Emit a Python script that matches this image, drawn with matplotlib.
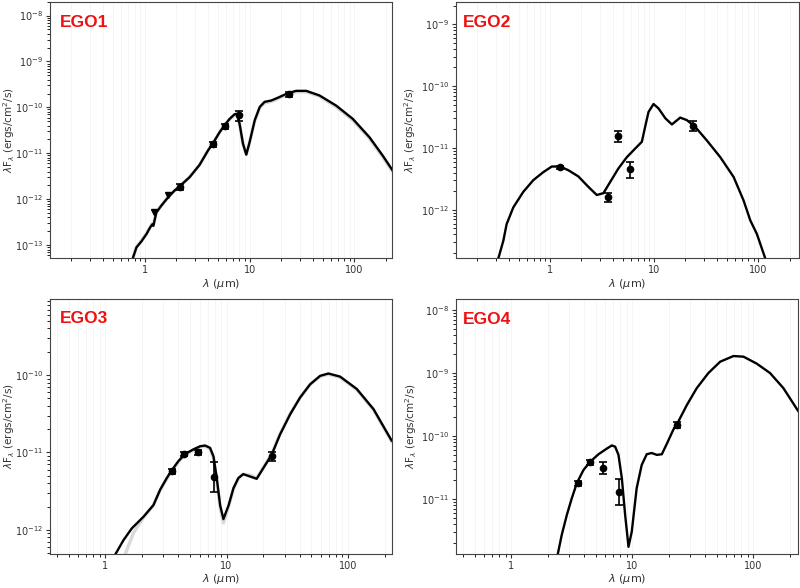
import numpy as np
import matplotlib
matplotlib.use('Agg')
import matplotlib.pyplot as plt

# ---- EGO1 ----
ego1_wav = [0.774, 0.834, 0.93, 1.04, 1.13, 1.18, 1.21, 1.29, 1.44, 1.67, 1.93, 2.15, 2.68, 3.34,
            4.01, 4.48, 5.18, 5.78, 6.45, 7.2, 7.57, 8.03, 8.65, 9.3, 10.0, 11.2, 12.5, 13.9,
            16.1, 18.6, 23.2, 27.8, 34.7, 46.4, 66.8, 96.4, 139, 186, 232]
ego1_logf = [-13.27, -13.05, -12.92, -12.76, -12.61, -12.55, -12.58, -12.29, -12.14, -11.96,
             -11.81, -11.72, -11.52, -11.25, -10.94, -10.78, -10.54, -10.39, -10.25, -10.15,
             -10.14, -10.36, -10.79, -11.03, -10.76, -10.28, -9.99, -9.88, -9.85, -9.79, -9.69,
             -9.64, -9.64, -9.74, -9.96, -10.25, -10.65, -11.05, -11.38]
ego1_gray_logf = [-13.27, -13.04, -12.9, -12.74, -12.6, -12.53, -12.55, -12.29, -12.14, -11.96,
                  -11.81, -11.72, -11.52, -11.25, -10.94, -10.78, -10.54, -10.39, -10.26, -10.16,
                  -10.15, -10.37, -10.8, -11.02, -10.76, -10.29, -10.01, -9.9, -9.87, -9.81, -9.71,
                  -9.66, -9.66, -9.76, -9.99, -10.28, -10.68, -11.08, -11.41]
ego1_pt_wav = [2.16, 4.5, 5.8, 7.9, 23.7]
ego1_pt_f = [1.85e-12, 1.6e-11, 3.9e-11, 6.7e-11, 1.95e-10]
ego1_pt_err = [0.25e-12, 0.2e-11, 0.5e-11, 1.6e-11, 0.25e-10]
ego1_lim_wav = [1.235, 1.66]
ego1_lim_f = [5.3e-13, 1.25e-12]

# ---- EGO2 ----
ego2_wav = [0.318, 0.356, 0.383, 0.444, 0.553, 0.691, 0.863, 1.04, 1.25, 1.5, 1.87, 2.34, 2.81,
            3.26, 3.78, 4.54, 5.46, 6.57, 7.62, 8.19, 8.82, 9.86, 11.0, 12.8, 14.8, 17.8, 20.6,
            24.8, 32.1, 43.2, 58, 72.3, 83.8, 97, 117]
ego2_logf = [-12.79, -12.50, -12.23, -11.96, -11.71, -11.52, -11.39, -11.30, -11.30, -11.36,
             -11.46, -11.63, -11.76, -11.73, -11.55, -11.33, -11.15, -11.01, -10.90, -10.66,
             -10.42, -10.29, -10.36, -10.52, -10.62, -10.51, -10.55, -10.66, -10.88, -11.15,
             -11.47, -11.85, -12.17, -12.39, -12.79]
ego2_pt_wav = [1.24, 3.6, 4.5, 5.8, 23.7]
ego2_pt_f = [4.9e-12, 1.6e-12, 1.55e-11, 4.6e-12, 2.3e-11]
ego2_pt_err = [0.3e-12, 0.25e-12, 0.3e-11, 1.3e-12, 0.4e-11]

# ---- EGO3 ----
ego3_wav = [1.21, 1.42, 1.66, 2.07, 2.5, 2.84, 3.22, 3.54, 4.02, 4.55, 5.33, 6.05, 6.65, 7.31,
            7.8, 8.3, 8.85, 9.42, 10.4, 11.4, 12.5, 13.7, 15.6, 17.7, 20.1, 23.5, 27.5, 33.3,
            40.3, 48.7, 58.9, 68.9, 86, 118, 162, 229]
ego3_logf = [-12.32, -12.13, -11.98, -11.83, -11.68, -11.48, -11.33, -11.23, -11.11, -11.02,
             -10.96, -10.92, -10.91, -10.94, -11.05, -11.33, -11.68, -11.86, -11.68, -11.46,
             -11.33, -11.28, -11.31, -11.34, -11.20, -11.03, -10.77, -10.51, -10.29, -10.12,
             -10.01, -9.98, -10.02, -10.18, -10.44, -10.85]
ego3_gray_wav = [1.46, 1.71, 2.07, 2.5, 2.84, 3.22, 3.54, 4.02, 4.55, 5.33, 6.05, 6.65, 7.31,
                 7.8, 8.3, 8.85, 9.42, 10.4, 11.4, 12.5, 13.7, 15.6, 17.7, 20.1, 23.5, 27.5,
                 33.3, 40.3, 48.7, 58.9, 68.9, 86, 118, 162, 229]
ego3_gray_logf = [-12.32, -12.04, -11.84, -11.68, -11.49, -11.34, -11.24, -11.12, -11.03,
                  -10.97, -10.93, -10.92, -10.95, -11.07, -11.36, -11.72, -11.91, -11.7, -11.47,
                  -11.34, -11.28, -11.29, -11.33, -11.19, -11.02, -10.76, -10.5, -10.29, -10.12,
                  -10.02, -9.99, -10.03, -10.19, -10.45, -10.86]
ego3_pt_wav = [3.55, 4.5, 5.8, 7.9, 23.7]
ego3_pt_f = [5.75e-12, 9.6e-12, 1.0e-11, 4.8e-12, 8.9e-12]
ego3_pt_lo = [0.4e-12, 0.5e-12, 0.7e-12, 1.7e-12, 1.2e-12]
ego3_pt_hi = [0.4e-12, 0.5e-12, 0.7e-12, 2.7e-12, 1.2e-12]

# ---- EGO4 ----
ego4_wav = [2.42, 2.62, 2.89, 3.17, 3.49, 3.96, 4.5, 5.27, 6.18, 6.8, 7.24, 7.71, 8.22, 8.75,
            9.33, 9.93, 10.9, 12.0, 13.2, 14.5, 16.0, 17.6, 19.4, 21.9, 24.1, 28.3, 34.2, 42.7,
            53.4, 68.8, 83.2, 107, 138, 178, 237]
ego4_logf = [-11.89, -11.57, -11.25, -10.99, -10.75, -10.54, -10.41, -10.29, -10.20, -10.15,
             -10.17, -10.30, -10.67, -11.25, -11.76, -11.52, -10.83, -10.46, -10.29, -10.27,
             -10.30, -10.29, -10.12, -9.90, -9.77, -9.51, -9.24, -9.0, -8.82, -8.73, -8.74,
             -8.85, -9.0, -9.24, -9.61]
ego4_pt_wav = [3.55, 4.45, 5.7, 7.85, 23.6]
ego4_pt_f = [1.78e-11, 3.8e-11, 3.1e-11, 1.3e-11, 1.5e-10]
ego4_pt_lo = [0.15e-11, 0.3e-11, 0.65e-11, 0.5e-11, 0.15e-10]
ego4_pt_hi = [0.15e-11, 0.3e-11, 0.8e-11, 0.8e-11, 0.15e-10]

panels = [
    dict(name='EGO1', wav=ego1_wav, logf=ego1_logf, gray=(ego1_wav, ego1_gray_logf),
         pw=ego1_pt_wav, pf=ego1_pt_f, perr=ego1_pt_err, lim=(ego1_lim_wav, ego1_lim_f),
         xlim=(0.125, 228), ylim=(5.2e-14, 2.0e-8), rect=[0.0625, 0.561, 0.4275, 0.436],
         ylab_x=-0.12, name_xy=(0.03, 0.95)),
    dict(name='EGO2', wav=ego2_wav, logf=ego2_logf, gray=None,
         pw=ego2_pt_wav, pf=ego2_pt_f, perr=ego2_pt_err, lim=None,
         xlim=(0.125, 245), ylim=(1.66e-13, 2.3e-9), rect=[0.57, 0.561, 0.4285, 0.436],
         ylab_x=-0.133, name_xy=(0.02, 0.95)),
    dict(name='EGO3', wav=ego3_wav, logf=ego3_logf, gray=(ego3_gray_wav, ego3_gray_logf),
         pw=ego3_pt_wav, pf=ego3_pt_f, perr=[ego3_pt_lo, ego3_pt_hi], lim=None,
         xlim=(0.352, 230), ylim=(4.9e-13, 9.6e-10), rect=[0.0625, 0.058, 0.4275, 0.4335],
         ylab_x=-0.12, name_xy=(0.03, 0.953)),
    dict(name='EGO4', wav=ego4_wav, logf=ego4_logf, gray=None,
         pw=ego4_pt_wav, pf=ego4_pt_f, perr=[ego4_pt_lo, ego4_pt_hi], lim=None,
         xlim=(0.35, 235), ylim=(1.34e-12, 1.5e-8), rect=[0.57, 0.058, 0.4275, 0.4335],
         ylab_x=-0.13, name_xy=(0.02, 0.95)),
]

fig = plt.figure(figsize=(8, 5.88), dpi=100)

for p in panels:
    ax = fig.add_axes(p['rect'])
    ax.set_xscale('log')
    ax.set_yscale('log')
    if p['gray'] is not None:
        gw, gf = p['gray']
        ax.plot(gw, 10 ** np.array(gf), color='#d9d9d9', lw=2.4, zorder=2,
                solid_joinstyle='round')
    ax.plot(p['wav'], 10 ** np.array(p['logf']), color='black', lw=1.7, zorder=3,
            solid_joinstyle='round', solid_capstyle='round')
    ax.errorbar(p['pw'], p['pf'], yerr=p['perr'], fmt='o', color='black', ms=4.5,
                capsize=3, elinewidth=1.2, capthick=1.2, zorder=4)
    if p['lim'] is not None:
        ax.plot(p['lim'][0], p['lim'][1], 'v', color='black', ms=5, zorder=4)
    ax.set_xlim(p['xlim'])
    ax.set_ylim(p['ylim'])
    ax.set_xticks([1, 10, 100])
    ax.set_xticklabels(['1', '10', '100'])
    ax.grid(True, which='both', axis='x', color='#f4f4f4', lw=0.6, zorder=0)
    ax.tick_params(labelsize=7, colors='#333333', length=3, pad=2)
    ax.tick_params(which='minor', length=2)
    for s in ax.spines.values():
        s.set_color('#444444')
    ax.set_xlabel(r'$\lambda$ ($\mu$m)', fontsize=8, color='#333333', va='center')
    ax.set_ylabel(r'$\lambda$F$_\lambda$ (ergs/cm$^2$/s)', fontsize=7.5, color='#333333',
                  va='center')
    ax.xaxis.set_label_coords(0.5, -0.1)
    ax.yaxis.set_label_coords(p['ylab_x'], 0.5)
    ax.text(p['name_xy'][0], p['name_xy'][1], p['name'], transform=ax.transAxes,
            color='#ee1111', fontsize=12.5, fontweight='bold', family='Liberation Sans',
            va='top', ha='left')

fig.savefig('out.png', dpi=100)
